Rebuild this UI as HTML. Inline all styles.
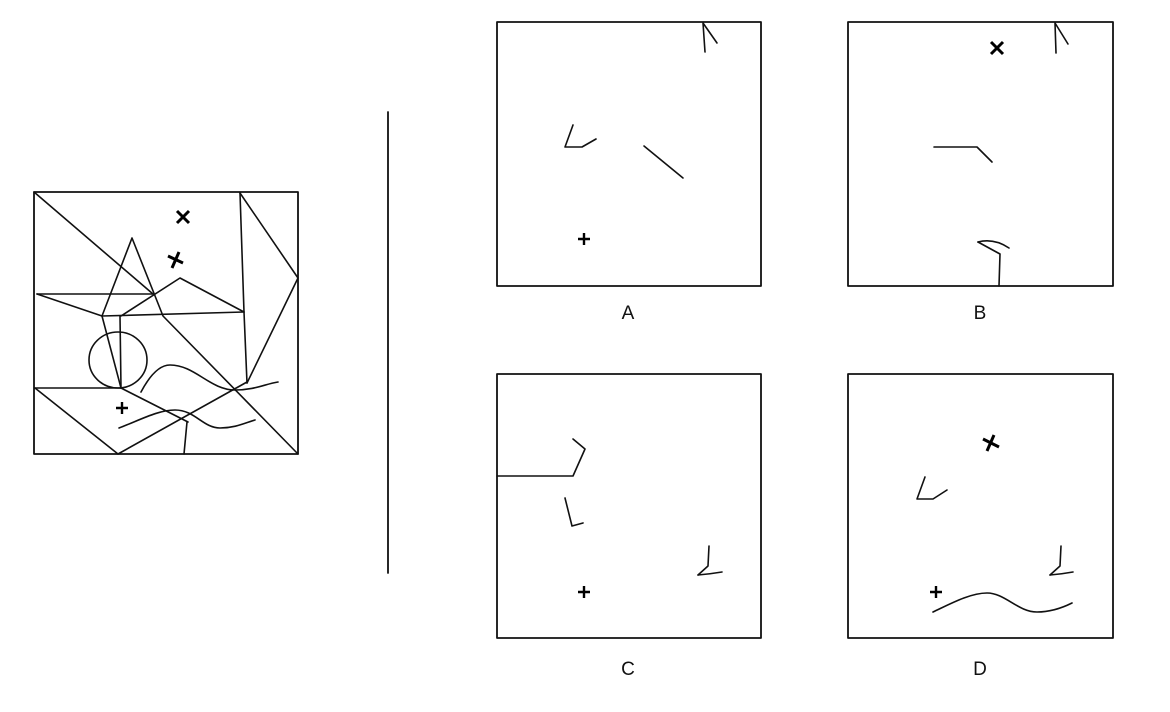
<!DOCTYPE html>
<html><head><meta charset="utf-8"><style>
html,body{margin:0;padding:0;background:#fff;}
svg{display:block;}
text{font-family:"Liberation Sans",sans-serif;font-size:19px;}
</style></head><body>
<svg width="1170" height="712" viewBox="0 0 1170 712" xmlns="http://www.w3.org/2000/svg">
<g fill="none" stroke="#111" stroke-width="1.6" stroke-linecap="round" stroke-linejoin="round">
<!-- main figure -->
<rect x="34" y="192" width="264" height="262" stroke-width="1.8"/>
<line x1="34" y1="192" x2="153" y2="294"/>
<polyline points="102,316 132,238 163,316 298,454"/>
<line x1="37" y1="294" x2="153" y2="294"/>
<line x1="37" y1="294" x2="102" y2="316"/>
<line x1="102" y1="316" x2="244" y2="312"/>
<polyline points="121,316 180,278 244,312"/>
<polyline points="240,193 244,312 247,383"/>
<polyline points="240,193 298,278 247,383"/>
<line x1="102" y1="316" x2="121" y2="388"/>
<line x1="120" y1="316" x2="121" y2="388"/>
<ellipse cx="118" cy="360" rx="29" ry="28"/>
<line x1="35" y1="388" x2="121" y2="388"/>
<line x1="35" y1="388" x2="118" y2="454"/>
<line x1="118" y1="454" x2="247" y2="382"/>
<line x1="121" y1="388" x2="188" y2="422"/>
<line x1="187" y1="422" x2="184" y2="454"/>
<path d="M141,392 C150,375 160,365 170,365 C195,365 210,390 235,390 C255,390 265,384 278,382"/>
<path d="M119,428 C140,420 158,410 175,410 C195,410 203,428 220,428 C235,428 245,423 255,420"/>
<!-- divider -->
<line x1="388" y1="112" x2="388" y2="573" stroke-width="1.8"/>
<!-- A -->
<rect x="497" y="22" width="264" height="264" stroke-width="1.8"/>
<polyline points="705,52 703,23 717,43"/>
<polyline points="573,125 565,147 582,147 596,139"/>
<line x1="644" y1="146" x2="683" y2="178"/>
<!-- B -->
<rect x="848" y="22" width="265" height="264" stroke-width="1.8"/>
<polyline points="1056,53 1055,23 1068,44"/>
<polyline points="934,147 977,147 992,162"/>
<polyline points="978,242 1000,254 999,286"/>
<path d="M978,242 Q994,238 1009,248"/>
<!-- C -->
<rect x="497" y="374" width="264" height="264" stroke-width="1.8"/>
<polyline points="497,476 573,476 585,449 573,439"/>
<polyline points="565,498 572,526 583,523"/>
<polyline points="709,546 708,566 698,575"/>
<path d="M698,575 Q710,574 722,572"/>
<!-- D -->
<rect x="848" y="374" width="265" height="264" stroke-width="1.8"/>
<polyline points="925,477 917,499 933,499 947,490"/>
<polyline points="1061,546 1060,566 1050,575"/>
<path d="M1050,575 Q1062,574 1073,572"/>
<path d="M933,612 C950,604 970,593 987,593 C1005,593 1018,612 1037,612 C1050,612 1062,608 1072,603"/>
</g>
<!-- crosses & pluses -->
<g stroke="#000" stroke-width="3" stroke-linecap="butt" fill="none">
<path d="M177,211 L189,223 M189,211 L177,223"/>
<path d="M168,256 L183,263 M179,252 L172,268"/>
<path d="M116,408 L128,408 M122,402 L122,414" stroke-width="2.4"/>
<path d="M578,239 L590,239 M584,233 L584,245" stroke-width="2.4"/>
<path d="M991,42 L1003,54 M1003,42 L991,54"/>
<path d="M983,439 L999,447 M994,435 L987,451"/>
<path d="M578,592 L590,592 M584,586 L584,598" stroke-width="2.4"/>
<path d="M930,592 L942,592 M936,586 L936,598" stroke-width="2.4"/>
</g>
<g fill="#111" text-anchor="middle">
<text x="628" y="319">A</text>
<text x="980" y="319">B</text>
<text x="628" y="675">C</text>
<text x="980" y="675">D</text>
</g>
</svg>
</body></html>
